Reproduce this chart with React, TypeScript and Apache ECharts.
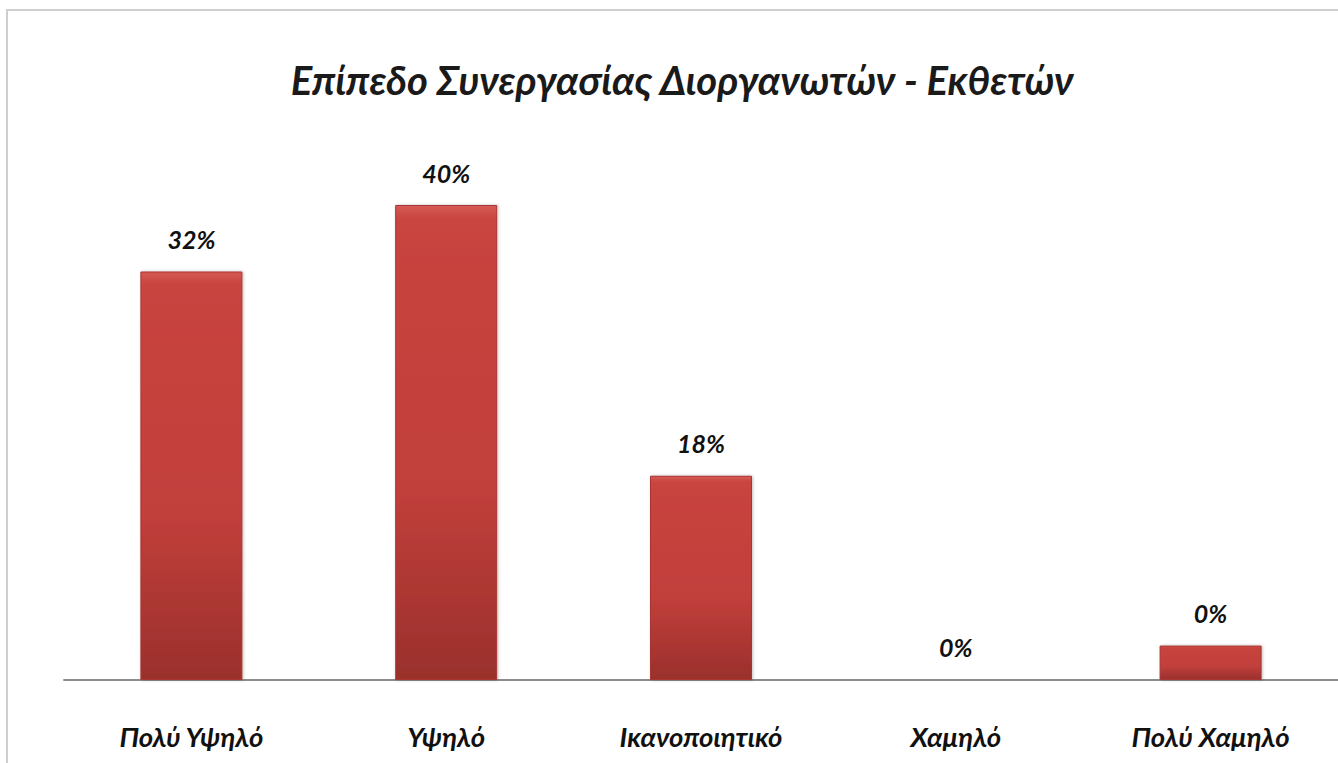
import React, { useEffect, useRef } from "react";
import * as echarts from "echarts";

const categories = ["Πολύ Υψηλό", "Υψηλό", "Ικανοποιητικό", "Χαμηλό", "Πολύ Χαμηλό"];
const barValues = [34.4, 40, 17.2, 0, 2.9];
const barLabels = ["32%", "40%", "18%", "0%", "0%"];
const titleText = "Επίπεδο Συνεργασίας Διοργανωτών - Εκθετών";

const FONT = "Lato, 'Open Sans', sans-serif";

export default function App() {
  const ref = useRef<HTMLDivElement>(null);
  useEffect(() => {
    document.body.style.margin = "0";
    document.body.style.overflow = "hidden";
    const chart = echarts.init(ref.current!, null, { renderer: "svg" });
    chart.setOption({
      animation: false,
      backgroundColor: "#ffffff",
      title: {
        text: titleText,
        left: 677,
        textAlign: "center",
        top: 55,
        textStyle: {
          fontFamily: FONT,
          fontStyle: "italic",
          fontWeight: "bold",
          fontSize: 40,
          color: "#1a1a1a",
        },
      },
      graphic: [
        {
          type: "rect",
          shape: { x: 7, y: 10, width: 1345, height: 770 },
          style: { fill: "none", stroke: "#cfcfcf", lineWidth: 2 },
          z: 0,
        },
      ],
      grid: { left: 64, right: -8, top: 86.25, bottom: 83, containLabel: false },
      xAxis: {
        type: "category",
        data: categories,
        axisLine: { show: true, lineStyle: { color: "#8c8c8c", width: 2 } },
        axisTick: { show: false },
        axisLabel: {
          margin: 43,
          fontFamily: FONT,
          fontStyle: "italic",
          fontWeight: "bold",
          fontSize: 27.5,
          color: "#111111",
        },
      },
      yAxis: {
        type: "value",
        min: 0,
        max: 50,
        show: false,
        splitLine: { show: false },
      },
      series: [
        {
          type: "bar",
          barWidth: 102,
          data: barValues.map((v, i) => ({
            value: v,
            label: { formatter: barLabels[i] },
          })),
          itemStyle: {
            color: new echarts.graphic.LinearGradient(0, 0, 0, 1, [
              { offset: 0, color: "#d55a55" },
              { offset: 0.03, color: "#c8443f" },
              { offset: 0.6, color: "#c13f3b" },
              { offset: 1, color: "#9a302c" },
            ]),
            borderColor: "#a83532",
            borderWidth: 1,
            shadowColor: "rgba(0,0,0,0.25)",
            shadowBlur: 3,
            shadowOffsetX: 1,
          },
          label: {
            show: true,
            position: "top",
            distance: 20,
            fontFamily: FONT,
            fontStyle: "italic",
            fontWeight: "bold",
            fontSize: 25,
            color: "#111111",
          },
        },
      ],
    });
    return () => chart.dispose();
  }, []);
  return <div ref={ref} style={{ width: 1338, height: 763 }} />;
}
